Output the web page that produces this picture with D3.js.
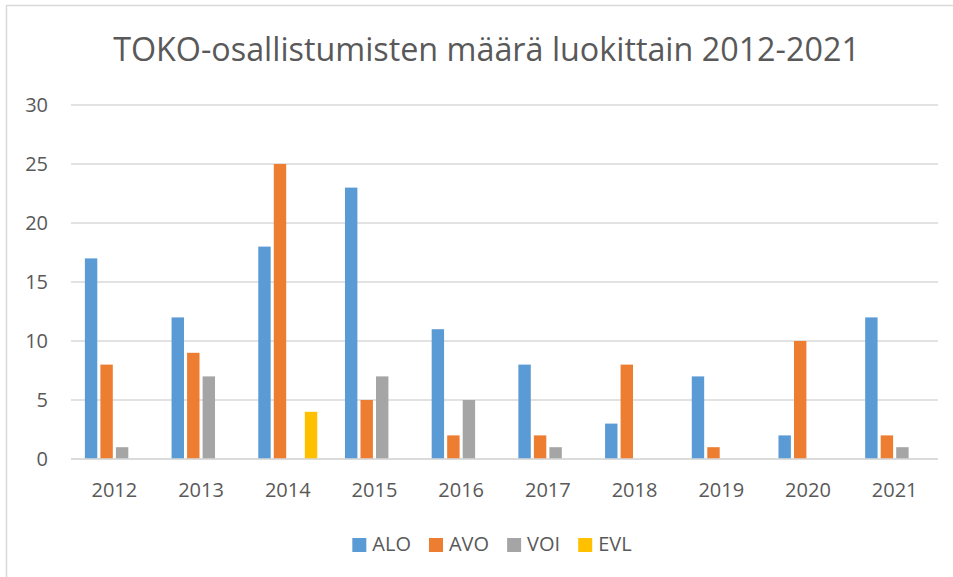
<!DOCTYPE html>
<html>
<head>
<meta charset="utf-8">
<script src="https://cdn.jsdelivr.net/npm/d3@7"></script>
<style>
  html, body { margin: 0; padding: 0; background: #fff; }
  svg { display: block; font-family: "Open Sans", sans-serif; }
</style>
</head>
<body>
<svg width="953" height="577"></svg>
<script>
// TOKO participations per class
const years = ["2012", "2013", "2014", "2015", "2016", "2017", "2018", "2019", "2020", "2021"];
const seriesNames = ["ALO", "AVO", "VOI", "EVL"];
const alo = [17, 12, 18, 23, 11, 8, 3, 7, 2, 12];
const avo = [8, 9, 25, 5, 2, 2, 8, 1, 10, 2];
const voi = [1, 7, 0, 7, 5, 1, 0, 0, 0, 1];
const evl = [0, 0, 4, 0, 0, 0, 0, 0, 0, 0];
const yTicks = [0, 5, 10, 15, 20, 25, 30];
const colors = ["#5b9bd5", "#ed7d31", "#a5a5a5", "#ffc000"];

const seriesValues = [alo, avo, voi, evl];
const titleText = "TOKO-osallistumisten määrä luokittain 2012-2021";

const plotLeft = 71;
const plotRight = 938;
const plotTop = 105;
const plotBottom = 459;
const textColor = "#595959";
const gridColor = "#d9d9d9";

const svg = d3.select("svg");

// chart border (runs off the right and bottom edge like the screenshot)
svg.append("rect")
  .attr("x", 6.5)
  .attr("y", 5.5)
  .attr("width", 1000)
  .attr("height", 600)
  .attr("fill", "none")
  .attr("stroke", gridColor)
  .attr("stroke-width", 1.5);

const x0 = d3.scaleBand()
  .domain(years)
  .range([plotLeft, plotRight])
  .paddingInner(0.32)
  .paddingOuter(0.16);

const x1 = d3.scaleBand()
  .domain(seriesNames)
  .range([0, x0.bandwidth()])
  .paddingInner(0.2);

const y = d3.scaleLinear()
  .domain([0, 30])
  .range([plotBottom, plotTop]);

// gridlines
svg.append("g")
  .selectAll("line")
  .data(yTicks)
  .enter()
  .append("line")
  .attr("x1", plotLeft)
  .attr("x2", plotRight)
  .attr("y1", (d) => y(d))
  .attr("y2", (d) => y(d))
  .attr("stroke", gridColor)
  .attr("stroke-width", 1.5);

// y labels
const yAxis = d3.axisLeft(y).tickValues(yTicks).tickSize(0).tickPadding(0);
const yG = svg.append("g")
  .attr("transform", "translate(48,0)")
  .call(yAxis);
yG.select(".domain").remove();
yG.selectAll("text")
  .attr("fill", textColor)
  .style("font-size", "20px")
  .style("font-family", "Open Sans, sans-serif");

// bars
const rows = years.map((yr, i) => ({
  year: yr,
  values: seriesNames.map((s, j) => ({ key: s, value: seriesValues[j][i], color: colors[j] })),
}));

svg.append("g")
  .selectAll("g")
  .data(rows)
  .enter()
  .append("g")
  .attr("transform", (d) => "translate(" + x0(d.year) + ",0)")
  .selectAll("rect")
  .data((d) => d.values.filter((v) => v.value > 0))
  .enter()
  .append("rect")
  .attr("x", (d) => x1(d.key))
  .attr("width", x1.bandwidth())
  .attr("y", (d) => y(d.value))
  .attr("height", (d) => y(0) - y(d.value))
  .attr("fill", (d) => d.color);

// baseline
svg.append("line")
  .attr("x1", plotLeft)
  .attr("x2", plotRight)
  .attr("y1", plotBottom)
  .attr("y2", plotBottom)
  .attr("stroke", gridColor)
  .attr("stroke-width", 1.5);

// x labels
const xAxis = d3.axisBottom(x0).tickSize(0).tickPadding(0);
const xG = svg.append("g")
  .attr("transform", "translate(0," + plotBottom + ")")
  .call(xAxis);
xG.select(".domain").remove();
xG.selectAll("text")
  .attr("dy", null)
  .attr("y", 38)
  .attr("fill", textColor)
  .style("font-size", "20px")
  .style("font-family", "Open Sans, sans-serif");

// title, sized to the width seen in the picture
const title = svg.append("text")
  .attr("x", 486.5)
  .attr("y", 61)
  .attr("text-anchor", "middle")
  .attr("fill", textColor)
  .style("font-size", "32px")
  .text(titleText);
const tw = title.node().getComputedTextLength();
title.style("font-size", (32 * 747 / tw).toFixed(2) + "px");

// legend
const legend = svg.append("g");
let lx = 0;
seriesNames.forEach((name, i) => {
  const item = legend.append("g").attr("transform", "translate(" + lx + ",0)");
  item.append("rect")
    .attr("x", 0)
    .attr("y", -13)
    .attr("width", 14)
    .attr("height", 14)
    .attr("fill", colors[i]);
  const t = item.append("text")
    .attr("x", 20)
    .attr("y", 0)
    .attr("fill", textColor)
    .style("font-size", "20px")
    .text(name);
  lx += 20 + t.node().getComputedTextLength() + 18;
});
const legendWidth = lx - 18;
legend.attr("transform", "translate(" + (492 - legendWidth / 2) + ",551)");
</script>
</body>
</html>
